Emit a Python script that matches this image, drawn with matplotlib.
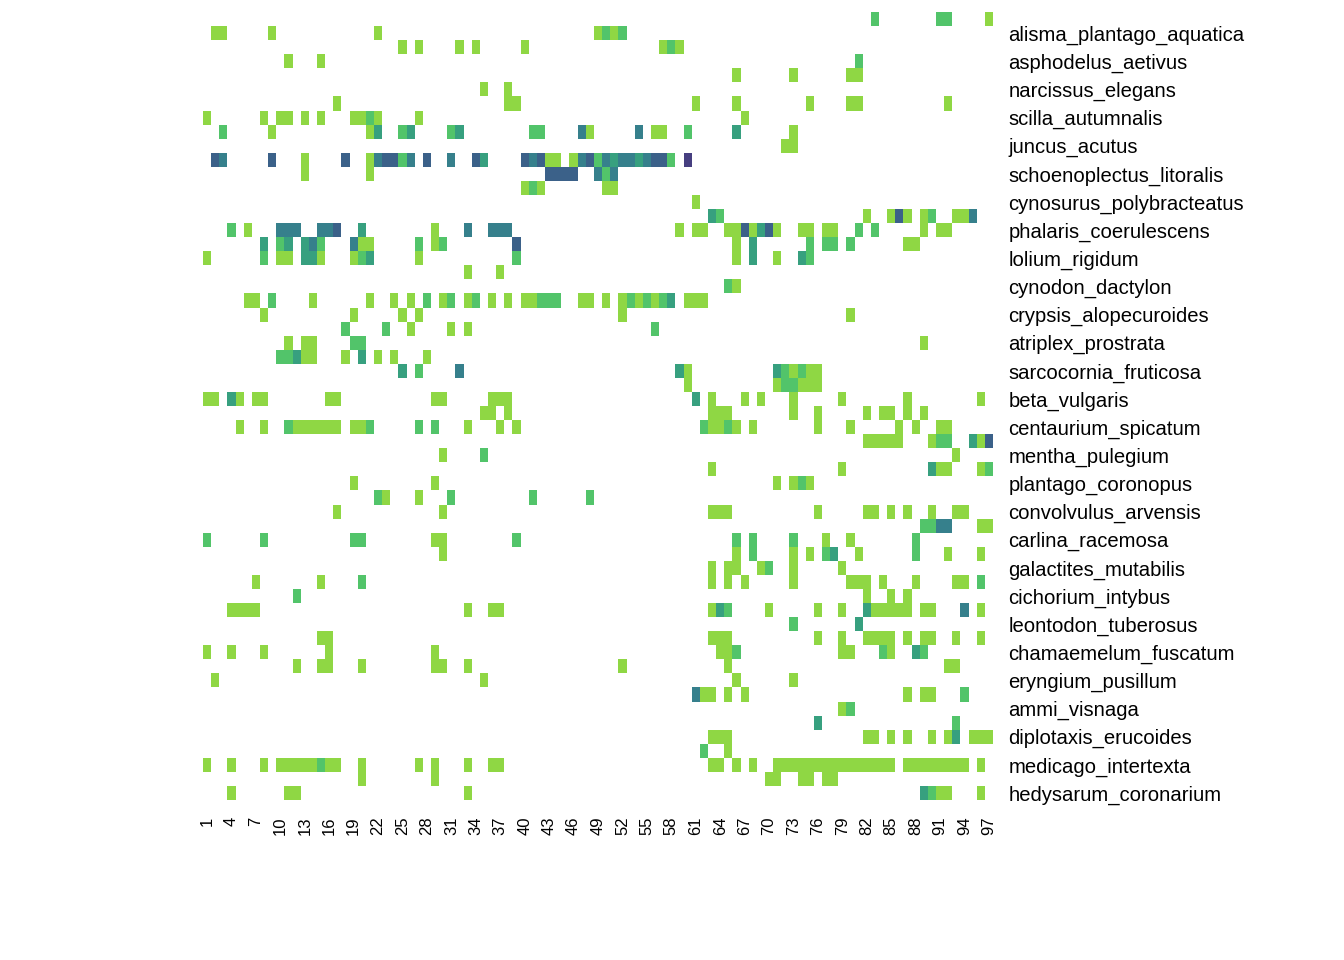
import numpy as np
import matplotlib.pyplot as plt
from matplotlib.colors import ListedColormap, BoundaryNorm

plt.rcParams['font.family'] = ['Liberation Sans', 'DejaVu Sans']

n_rows = 56
n_cols = 97

# only every second row carries a name
species = [
    'alisma_plantago_aquatica', 'asphodelus_aetivus', 'narcissus_elegans',
    'scilla_autumnalis', 'juncus_acutus', 'schoenoplectus_litoralis',
    'cynosurus_polybracteatus', 'phalaris_coerulescens', 'lolium_rigidum',
    'cynodon_dactylon', 'crypsis_alopecuroides', 'atriplex_prostrata',
    'sarcocornia_fruticosa', 'beta_vulgaris', 'centaurium_spicatum',
    'mentha_pulegium', 'plantago_coronopus', 'convolvulus_arvensis',
    'carlina_racemosa', 'galactites_mutabilis', 'cichorium_intybus',
    'leontodon_tuberosus', 'chamaemelum_fuscatum', 'eryngium_pusillum',
    'ammi_visnaga', 'diplotaxis_erucoides', 'medicago_intertexta',
    'hedysarum_coronarium',
]

# colour per abundance level 1..6
level_colors = ['#8fd744', '#52c46a', '#37a07f', '#36808c', '#3b6189', '#463f80']

# non-empty cells of each row: "col" (level 1), "col:level", "a-b" ranges
cells = [
    "83:2 91:2 92:2 97",
    "2 3 9 22 49 50:2 51 52:2",
    "25 27 32 34 40 57 58:2 59",
    "11 15 81:2",
    "66 73 80 81",
    "35 38",
    "17 38 39 61 66 75 80 81 92",
    "1 8 10 11 13 15 19 20 21:2 22 27 67",
    "3:2 9 21 22:3 25:2 26:3 31:2 32:3 41:2 42:2 47:4 48 54:4 56 57 60:2 66:3 73",
    "72 73",
    "2:5 3:4 9:5 13 18:5 21 22:4 23:5 24:5 25:2 26:4 28:5 31:4 34:5 35:3 40:5 41:4 "
    "42:5 43 44 46 47:4 48:5 49:2 50:4 51:3 52:4 53:4 54:3 55:4 56:5 57:5 58:2 60:6",
    "13 21 43-46:5 49:4 50:2 51:4",
    "40 41:2 42 50 51",
    "61",
    "63:3 64:2 82 85 86:5 87 89 90:2 93 94 95:4",
    "4:2 6 10-12:4 15:4 16:4 17:5 20:3 29 33:4 36-38:4 59 61 62 65 66 67:5 68 69:3 "
    "70:5 71 74 75 77 78 81:2 83:2 89 91 92",
    "8:3 10:2 11:3 13:3 14:4 15:2 19:4 20 21 27:2 29 30:2 39:5 66 68:3 75:2 77:2 78:2 80:2 87 88",
    "1 8:2 10 11 13:3 14:3 15 19 20:2 21:3 27 39:2 66 68:3 71 74:3 75:2",
    "33 37",
    "65:2 66",
    "6 7 9:2 14 21 24 26 28:2 30 31:2 33 34:2 36 38 40 41 42-44:2 47 48 50 52 53:2 54 "
    "55:2 56 57:2 58:3 60 61 62",
    "8 19 25 27 52 80",
    "18:2 23:2 26 31 33 56:2",
    "11 13 14 19:2 20:2 89",
    "10:2 11:2 12:3 13 14 18 20:3 22 24 28",
    "25:3 27:2 32:4 59:3 60 71:3 72:2 73 74:2 75 76",
    "60 71 72:2 73:2 74 75 76",
    "1 2 4:3 5 7 8 16 17 29 30 36 37 38 61:3 63 67 69 73 79 87 96",
    "35 36 38 63 64 65 73 76 82 84 85 87 89",
    "5 8 11:2 12-17 19 20 21:2 27:2 29:2 33 37 39 62:2 63 64 65:2 66 68 76 80 86 88 91 92",
    "82-86 90 91:2 92:2 95:3 96 97:5",
    "30 35:2 93",
    "63 79 90:3 91 92 96 97:2",
    "19 29 71 73 74:2 75",
    "22:2 23 27 31:2 41:2 48:2",
    "17 30 63 64 65 76 82 83 85 87 90 93 94",
    "89:2 90:2 91:4 92:4 96 97",
    "1:2 8:2 19:2 20:2 29 30 39:2 66:2 68:2 73:2 77 80 88:2",
    "30 66 68:2 73 75 77:2 78:3 81 88:2 92 96",
    "63 65 66 69 70:2 73 79",
    "7 15 20:2 63 65 67 73 80 81 82 84 88 93 94 96:2",
    "12:2 82 85 87",
    "4-7 33 36 37 63 64:3 65:2 70 76 79 82:3 83-87 89 90 94:4 96",
    "73:2 81:3",
    "15 16 63 64 65 76 79 82-85 87 89 90 93 96",
    "1 4 8 16 29 64 65 66:2 79 80 84:2 85 88:3 89:2",
    "12 15 16 20 29 30 33 52 65 92 93",
    "2 35 66 73",
    "61:4 62 63 65 67 87 89 90 94:2",
    "79 80:2",
    "76:3 93:2",
    "63 64 65 82 83 85 87 90 92 93:3 95 96 97",
    "62:2 65",
    "1 4 8 10-14 15:2 16 17 20 27 29 33 36 37 63 64 66 68 71-85 87-94 96",
    "20 29 70 71 74 75 77 78",
    "4 11 12 33 89:3 90:2 91 92 96",
]

# build the matrix (NaN = absent)
mat = np.full((n_rows, n_cols), np.nan)
for r, spec in enumerate(cells):
    for item in spec.split():
        if ':' in item:
            cols, lvl = item.split(':')
            lvl = int(lvl)
        else:
            cols, lvl = item, 1
        if '-' in cols:
            a, b = cols.split('-')
            rng = range(int(a), int(b) + 1)
        else:
            rng = [int(cols)]
        for c in rng:
            mat[r, c - 1] = lvl

cmap = ListedColormap(level_colors)
norm = BoundaryNorm(np.arange(0.5, 7.5, 1), cmap.N)

fig = plt.figure(figsize=(13.44, 9.6), dpi=100)
ax = fig.add_axes([203 / 1344, 1 - 800 / 960, 790 / 1344, 788 / 960])

x_edges = np.arange(0.5, n_cols + 1.5)
y_edges = np.arange(-0.5, n_rows + 0.5)
ax.pcolormesh(x_edges, y_edges, np.ma.masked_invalid(mat), cmap=cmap, norm=norm)
ax.set_xlim(0.5, n_cols + 0.5)
ax.set_ylim(n_rows - 0.5, -0.5)

ax.set_xticks(range(1, n_cols + 1, 3))
ax.set_xticklabels([str(c) for c in range(1, n_cols + 1, 3)], rotation=90,
                   fontsize=12, va='top')
ax.yaxis.tick_right()
ax.set_yticks(range(1, n_rows, 2))
ax.set_yticklabels(species, fontsize=14.6)
ax.tick_params(axis='x', length=0, pad=12)
ax.tick_params(axis='y', length=0, pad=11)
for s in ax.spines.values():
    s.set_visible(False)

fig.savefig('out.png', dpi=100, facecolor='white')
